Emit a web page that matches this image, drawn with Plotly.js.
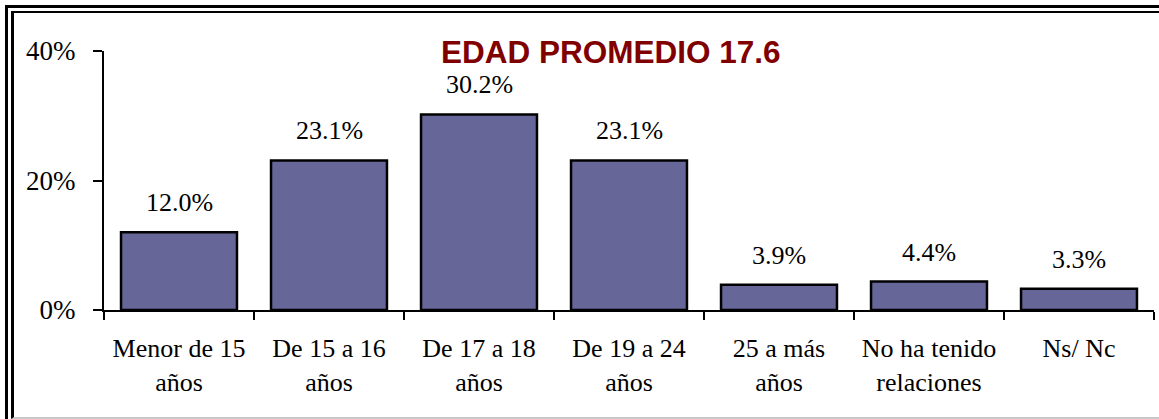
<!DOCTYPE html>
<html>
<head>
<meta charset="utf-8">
<script src="https://cdn.plot.ly/plotly-3.0.1.min.js"></script>
<style>
  html, body { margin: 0; padding: 0; background: #ffffff; }
  #wrap { position: relative; width: 1159px; height: 419px; overflow: hidden; background: #fff; }
  #chart { position: absolute; left: 0; top: 0; width: 1159px; height: 419px; }
  .frame { position: absolute; pointer-events: none; }
</style>
</head>
<body>
<div id="wrap">
  <div class="frame" style="left:5px; top:5px; width:1200px; height:500px; border-left:3px solid #000; border-top:3px solid #000;"></div>
  <div class="frame" style="left:11px; top:11px; width:1200px; height:404px; border-left:3px solid #000; border-top:2px solid #000; border-bottom:2px solid #c8c8c8;"></div>
  <div id="chart"></div>
</div>
<script>
const categories = [
  "Menor de 15<br>años",
  "De 15 a 16<br>años",
  "De 17 a 18<br>años",
  "De 19 a 24<br>años",
  "25 a más<br>años",
  "No ha tenido<br>relaciones",
  "Ns/ Nc"
];
const values = [12.0, 23.1, 30.2, 23.1, 3.9, 4.4, 3.3];
const valueLabels = ["12.0%", "23.1%", "30.2%", "23.1%", "3.9%", "4.4%", "3.3%"];
const yTickVals = [0, 20, 40];
const yTickText = ["0%", "20%", "40%"];
const chartTitle = "EDAD PROMEDIO 17.6";

const serif = "'Liberation Serif', 'Times New Roman', serif";

const trace = {
  type: "bar",
  x: categories,
  y: values,
  marker: { color: "#666699", line: { color: "#000000", width: 2.5 } },
  hoverinfo: "skip"
};

const annotations = categories.map((c, i) => ({
  x: c, y: values[i], xref: "x", yref: "y",
  text: valueLabels[i], showarrow: false,
  yanchor: "bottom", yshift: 13,
  font: { family: serif, size: 26, color: "#000" }
}));

const layout = {
  width: 1159, height: 419,
  margin: { l: 104, r: 5, t: 51, b: 109, pad: 0 },
  paper_bgcolor: "rgba(0,0,0,0)",
  plot_bgcolor: "rgba(0,0,0,0)",
  showlegend: false,
  bargap: 0.227,
  title: {
    text: chartTitle,
    font: { family: "'Liberation Sans', Arial, sans-serif", size: 31.5, color: "#800000", weight: "bold" },
    x: 0.527, xref: "container", xanchor: "center",
    y: 0.876, yref: "container", yanchor: "middle"
  },
  xaxis: {
    type: "category",
    showline: true, linecolor: "#000", linewidth: 2,
    ticks: "outside", tickson: "boundaries", ticklen: 8, tickwidth: 2, tickcolor: "#000",
    tickfont: { family: serif, size: 26, color: "#000" },
    ticklabelstandoff: 14,
    showgrid: false, zeroline: false, fixedrange: true
  },
  yaxis: {
    range: [0, 40],
    tickvals: yTickVals, ticktext: yTickText,
    showline: true, linecolor: "#000", linewidth: 2,
    ticks: "outside", ticklen: 9, tickwidth: 2, tickcolor: "#000",
    tickfont: { family: serif, size: 27, color: "#000" },
    ticklabelstandoff: 12,
    showgrid: false, zeroline: false, fixedrange: true
  },
  annotations: annotations
};

Plotly.newPlot("chart", [trace], layout, { displayModeBar: false, staticPlot: true });
</script>
</body>
</html>
